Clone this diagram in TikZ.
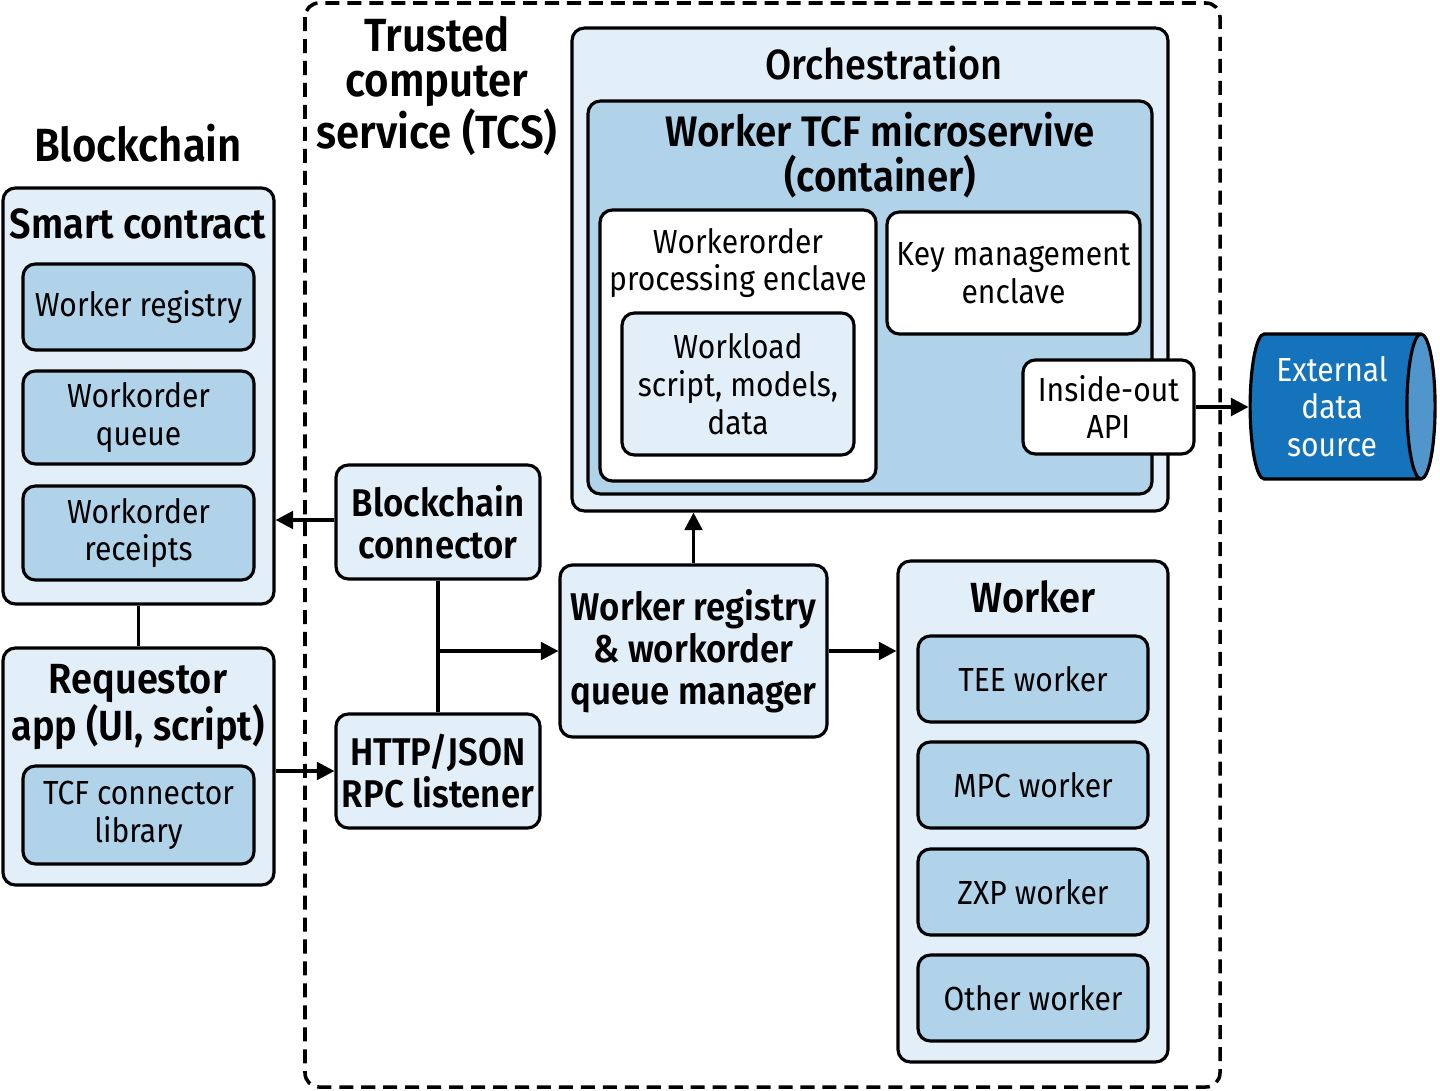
\documentclass[tikz,border=0pt]{standalone}
\usepackage{fontspec}
\setmainfont{Fira Sans}[FakeStretch=0.9,BoldFont={Fira Sans SemiBold},BoldFeatures={FakeStretch=0.9}]
\newfontfamily\mediumfont{Fira Sans Medium}[FakeStretch=0.9]
\usetikzlibrary{arrows.meta,shapes.geometric}
\definecolor{paleblue}{HTML}{E2EFF8}
\definecolor{midblue}{HTML}{B0D3EA}
\definecolor{deepblue}{HTML}{1573BB}

\begin{document}
\begin{tikzpicture}[
    x=0.02cm, y=-0.02cm,
    >={Triangle[length=10pt,width=10pt]},
    group box/.style={draw,line width=1.8pt,rounded corners=7pt,fill=paleblue,inner sep=0pt},
    item box/.style={group box,fill=midblue,align=center,font=\fontsize{19}{21.5}\selectfont},
    enclave box/.style={group box,fill=white,align=center,font=\fontsize{19}{21.5}\selectfont},
    link box/.style={group box,align=center,font=\bfseries\fontsize{22}{23.8}\selectfont},
    label text/.style={align=center,font=\fontsize{19}{21.5}\selectfont},
    title text/.style={align=center,font=\bfseries\fontsize{24}{25}\selectfont},
    big title/.style={align=center,font=\bfseries\fontsize{26.5}{25.2}\selectfont},
    flow/.style={->,line width=2pt}
]
\useasboundingbox (0,0) rectangle (1440,1091);

% TCS boundary
\draw[line width=2pt,dash pattern=on 8pt off 4.5pt,rounded corners=8pt] (305,3) rectangle (1220,1087);
\node[big title] (tcs title) at (437,86) {Trusted\\computer\\service (TCS)};
\node[big title] (bc title) at (138,143) {Blockchain};

% Blockchain side
\node[group box,minimum width=5.42cm,minimum height=8.32cm] (sc) at (138.5,396) {};
\node[title text] at (138,224) {Smart contract};
\node[item box,minimum width=4.62cm,minimum height=1.72cm] (wr) at (138.5,307) {Worker registry};
\node[item box,minimum width=4.62cm,minimum height=1.86cm] (wq) at (138.5,417.5) {Workorder\\queue};
\node[item box,minimum width=4.62cm,minimum height=1.88cm] (wrc) at (138.5,533) {Workorder\\receipts};

\node[group box,minimum width=5.42cm,minimum height=4.74cm] (req) at (138.5,766.5) {};
\node[title text] at (138,707) {Requestor\\app (UI, script)};
\node[item box,minimum width=4.62cm,minimum height=1.96cm] (tcf) at (138.5,815) {TCF connector\\library};

% TCS connectors
\node[link box,minimum width=4.08cm,minimum height=2.28cm] (bc) at (438,522) {Blockchain\\connector};
\node[link box,minimum width=4.08cm,minimum height=2.28cm] (http) at (438,771) {HTTP/JSON\\RPC listener};
\node[link box,minimum width=5.34cm,minimum height=3.44cm] (wrqm) at (693.5,651) {Worker registry\\\&{} workorder\\queue manager};

% Orchestration
\node[group box,minimum width=11.92cm,minimum height=9.66cm] (orch) at (870,269.5) {};
\node[label text,font=\mediumfont\fontsize{24}{25}\selectfont] at (884,63) {Orchestration};
\node[group box,fill=midblue,minimum width=11.28cm,minimum height=7.86cm] (micro) at (870,297.5) {};
\node[title text,font=\bfseries\fontsize{24.3}{25.5}\selectfont] at (880,155) {Worker TCF microservive\\(container)};
\node[enclave box,minimum width=5.52cm,minimum height=5.42cm] (wope) at (738,345.5) {};
\node[label text] at (738,263) {Workerorder\\processing enclave};
\node[group box,align=center,font=\fontsize{19}{21.5}\selectfont,minimum width=4.64cm,minimum height=2.84cm] (wl) at (738,384) {Workload\\script, models,\\data};
\node[enclave box,minimum width=5.06cm,minimum height=2.44cm] (km) at (1013.5,273) {Key management\\enclave};
\node[enclave box,minimum width=3.42cm,minimum height=1.88cm] (api) at (1108.5,407) {Inside-out\\API};

% External data
\node[cylinder,draw,line width=1.8pt,shape aspect=0.25,cylinder uses custom fill,
      cylinder body fill=deepblue,cylinder end fill=deepblue!75!white,
      minimum width=2.9cm,minimum height=3.7cm,text=white,align=center,
      font=\fontsize{19}{21.5}\selectfont] (ext) at (1332,406.5) {External\\data\\source};

% Worker
\node[group box,minimum width=5.4cm,minimum height=10.02cm] (worker) at (1033,811.5) {};
\node[title text] at (1033,597) {Worker};
\node[item box,minimum width=4.6cm,minimum height=1.72cm] (tee) at (1033,679) {TEE worker};
\node[item box,minimum width=4.6cm,minimum height=1.72cm] (mpc) at (1033,785) {MPC worker};
\node[item box,minimum width=4.6cm,minimum height=1.72cm] (zxp) at (1033,892) {ZXP worker};
\node[item box,minimum width=4.6cm,minimum height=1.72cm] (oth) at (1033,998) {Other worker};

% Connectors
\draw[line width=2pt] (sc.south) -- (req.north);
\draw[flow] (bc.west |- 0,520) -- (sc.east |- 0,520);
\draw[flow] (req.east |- http.west) -- (http.west);
\draw[line width=2pt] (bc.south) -- (http.north);
\draw[flow] (bc.south |- wrqm.west) -- (wrqm.west);
\draw[flow] (wrqm.north) -- (wrqm.north |- orch.south);
\draw[flow] (wrqm.east) -- (wrqm.east -| worker.west);
\draw[flow] (api.east) -- (api.east -| ext.west);

\end{tikzpicture}
\end{document}
